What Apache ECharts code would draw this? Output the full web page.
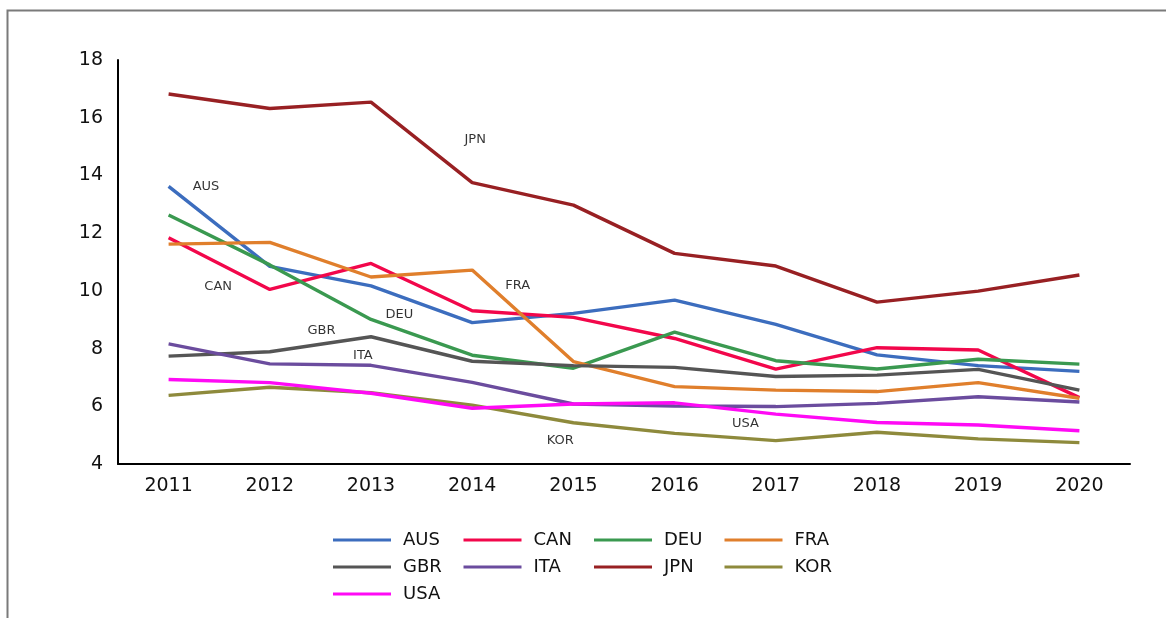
<!DOCTYPE html>
<html>
<head>
<meta charset="utf-8">
<script src="https://cdn.jsdelivr.net/npm/echarts@6/dist/echarts.min.js"></script>
<style>
html,body{margin:0;padding:0;background:#fff;}
#chart{width:1166px;height:618px;}
</style>
</head>
<body>
<div id="chart"></div>
<script>
const years = ['2011','2012','2013','2014','2015','2016','2017','2018','2019','2020'];
const AUS = [13.62, 10.85, 10.17, 8.90, 9.22, 9.68, 8.84, 7.78, 7.41, 7.21];
const CAN = [11.84, 10.05, 10.95, 9.31, 9.08, 8.35, 7.29, 8.03, 7.95, 6.30];
const DEU = [12.63, 10.90, 9.01, 7.77, 7.32, 8.57, 7.58, 7.29, 7.63, 7.46];
const FRA = [11.62, 11.68, 10.48, 10.72, 7.55, 6.68, 6.56, 6.51, 6.82, 6.28];
const GBR = [7.74, 7.89, 8.41, 7.56, 7.41, 7.35, 7.03, 7.08, 7.28, 6.56];
const ITA = [8.16, 7.47, 7.42, 6.83, 6.08, 6.01, 5.99, 6.10, 6.33, 6.15];
const JPN = [16.82, 16.32, 16.54, 13.75, 12.97, 11.30, 10.86, 9.61, 9.99, 10.55];
const KOR = [6.38, 6.66, 6.47, 6.04, 5.43, 5.06, 4.81, 5.10, 4.87, 4.74];
const USA = [6.93, 6.82, 6.45, 5.93, 6.08, 6.12, 5.73, 5.44, 5.35, 5.15];
const yTicks = [4, 18, 2]; // min, max, interval
// in-chart series name labels: [category position, value, text]
const seriesLabels = [
  [0.37, 13.60, 'AUS'],
  [0.49, 10.13, 'CAN'],
  [2.28, 9.16, 'DEU'],
  [1.51, 8.61, 'GBR'],
  [1.92, 7.74, 'ITA'],
  [3.03, 15.23, 'JPN'],
  [3.45, 10.17, 'FRA'],
  [3.87, 4.80, 'KOR'],
  [5.70, 5.39, 'USA']
];

const seriesDefs = [
  ['AUS', AUS, '#3C6DBE'],
  ['CAN', CAN, '#F2074B'],
  ['DEU', DEU, '#3A9950'],
  ['FRA', FRA, '#E07F2C'],
  ['GBR', GBR, '#555555'],
  ['ITA', ITA, '#6B4C9E'],
  ['JPN', JPN, '#982023'],
  ['KOR', KOR, '#8E8A3C'],
  ['USA', USA, '#FF0AF5']
];

const font = 'DejaVu Sans';
const chart = echarts.init(document.getElementById('chart'));
const series = seriesDefs.map(([name, data, color]) => ({
  name, type: 'line', data, color,
  symbol: 'none', showSymbol: false,
  lineStyle: { width: 3.4, color },
  itemStyle: { color },
  animation: false,
  xAxisIndex: 0, yAxisIndex: 0
}));
series.push({
  type: 'scatter', name: '_labels',
  xAxisIndex: 1, yAxisIndex: 0,
  data: seriesLabels.map(d => ({ value: [d[0], d[1]], name: d[2] })),
  symbolSize: 0,
  silent: true,
  animation: false,
  label: {
    show: true, position: 'inside',
    formatter: p => p.name,
    color: '#000', fontFamily: font, fontSize: 13
  }
});

chart.setOption({
  backgroundColor: '#fff',
  animation: false,
  graphic: [{
    type: 'rect', left: 5, top: 8, silent: true,
    shape: { x: 0, y: 0, width: 1200, height: 700 },
    style: { fill: 'none', stroke: '#7a7a7a', lineWidth: 2 }
  }],
  grid: { left: 118, right: 36, top: 60, bottom: 154, containLabel: false },
  legend: {
    data: seriesDefs.map(d => d[0]),
    left: 328, top: 526, width: 530,
    itemWidth: 58, itemHeight: 15, itemGap: 9,
    icon: 'path://M0,6 L58,6 L58,9 L0,9 Z',
    textStyle: { fontFamily: font, fontSize: 18, color: '#111', width: 51.5, lineHeight: 18, padding: [0,0,0,7] }
  },
  xAxis: [{
    type: 'category', data: years, boundaryGap: true,
    axisLine: { show: true, onZero: false, lineStyle: { color: '#000', width: 2 } },
    axisTick: { show: false },
    axisLabel: { fontFamily: font, fontSize: 19, color: '#111', margin: 13 },
    splitLine: { show: false }
  }, {
    type: 'value', min: -0.5, max: 9.5, show: false
  }],
  yAxis: [{
    type: 'value', min: yTicks[0], max: yTicks[1], interval: yTicks[2],
    axisLine: { show: true, onZero: false, lineStyle: { color: '#000', width: 2 } },
    axisTick: { show: false },
    axisLabel: { fontFamily: font, fontSize: 19, color: '#111', margin: 15 },
    splitLine: { show: false }
  }],
  series
});
</script>
</body>
</html>
